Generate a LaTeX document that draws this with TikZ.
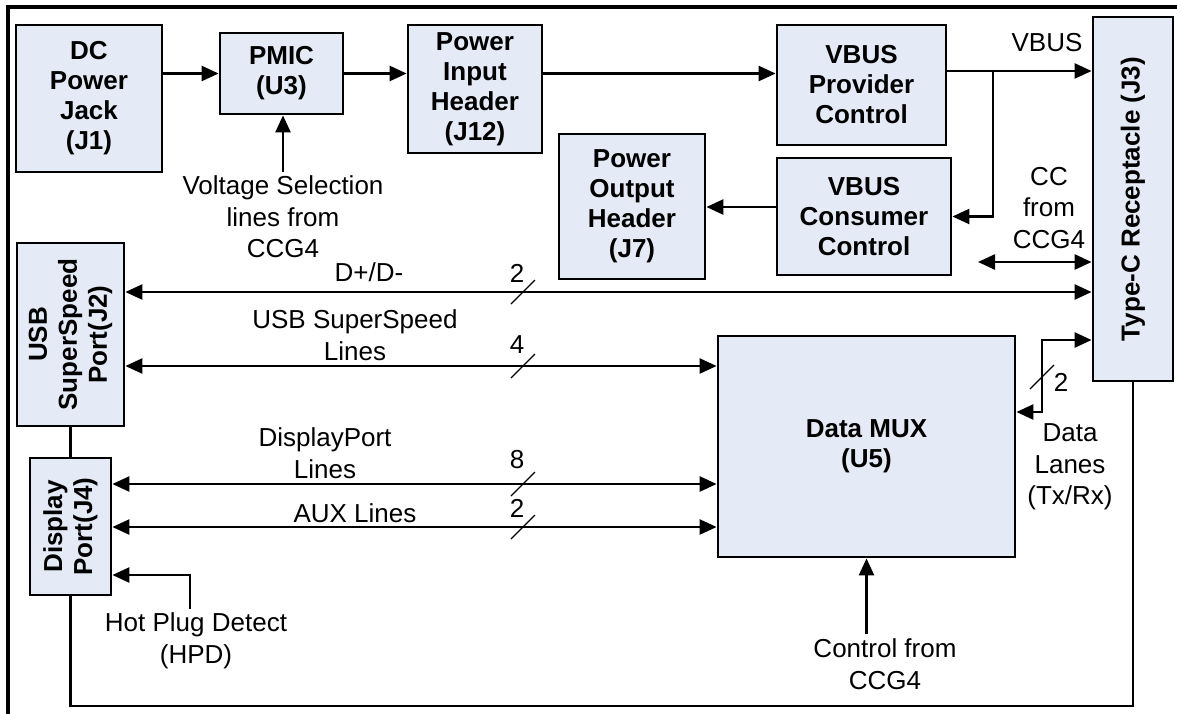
\documentclass[tikz,border=0pt]{standalone}
\usepackage{fontspec}
\setmainfont{Liberation Sans}
\usetikzlibrary{arrows.meta}
\tikzset{>={Triangle[length=8.5pt,width=7.5pt]}}
\definecolor{boxfill}{RGB}{228,234,246}
\tikzstyle{blk}=[draw,line width=1.4pt,fill=boxfill,align=center,inner sep=0pt,font=\fontsize{13}{15}\selectfont\bfseries]
\tikzstyle{lbl}=[align=center,inner sep=2pt,font=\fontsize{13}{15.75}\selectfont]
\tikzstyle{wire}=[line width=1.25pt]
\tikzstyle{busmark}=[line width=0.6pt]
\def\busslash#1{\draw[busmark] (#1) ++(-12,12) -- ++(24,-24);}

\begin{document}
\begin{tikzpicture}[x=0.5pt,y=-0.5pt]
  \useasboundingbox (0,0) rectangle (1177,713);
  \draw[line width=2pt] (7.5,720) -- (7.5,7) -- (1185,7);

  % POWER PATH
  \node[blk,minimum width=73pt,minimum height=73.5pt] (jack) at (89,98.5) {DC\\Power\\Jack\\(J1)};
  \node[blk,minimum width=61.5pt,minimum height=40.5pt] (pmic) at (281.5,73.5) {PMIC\\(U3)};
  \node[blk,minimum width=67pt,minimum height=64pt] (pin) at (475,89) {Power\\Input\\Header\\(J12)};
  \node[blk,minimum width=84.5pt,minimum height=60pt] (prov) at (861.5,85) {VBUS\\Provider\\Control};
  \node[blk,minimum width=87pt,minimum height=58.5pt] (cons) at (864,216.5) {VBUS\\Consumer\\Control};
  \node[blk,minimum width=73pt,minimum height=72.5pt] (pout) at (632,206.5) {Power\\Output\\Header\\(J7)};
  \node[blk,rotate=90,minimum width=182pt,minimum height=40pt] (typec) at (1133,199) {Type-C Receptacle (J3)};

  % PORTS
  \node[blk,rotate=90,minimum width=91.5pt,minimum height=53.5pt] (usb) at (70.5,334.5) {USB\\SuperSpeed\\Port(J2)};
  \node[blk,rotate=90,minimum width=68.5pt,minimum height=40.5pt] (dp) at (70.5,526.5) {Display\\Port(J4)};
  \node[blk,minimum width=148.5pt,minimum height=110.5pt] (mux) at (866.5,446.5) {Data MUX\\(U5)};

  % LABELS
  \node[lbl] (vsel) at (283,217) {Voltage Selection\\lines from\\CCG4};
  \node[lbl] (vbus) at (1047,43) {VBUS};
  \node[lbl] (cc) at (1049,208) {CC\\from\\CCG4};
  \node[lbl] (dd) at (369,272) {D+/D-};
  \node[lbl] (ss) at (355,335) {USB SuperSpeed\\Lines};
  \node[lbl] (dpl) at (325,453) {DisplayPort\\Lines};
  \node[lbl] (aux) at (355,513) {AUX Lines};
  \node[lbl] (hpd) at (196,641) {Hot Plug Detect\\(HPD)};
  \node[lbl] (ctl) at (885,664) {Control from\\CCG4};
  \node[lbl] (lanes) at (1070,467) {Data\\Lanes\\(Tx/Rx)};
  \node[lbl] (nDD) at (517,273) {2};
  \node[lbl] (nSS) at (517,345) {4};
  \node[lbl] (nDP) at (517,460) {8};
  \node[lbl] (nAX) at (517,508) {2};
  \node[lbl] (nDL) at (1061,382) {2};

  \coordinate (vb) at (993,71);
  \coordinate (vout) at (0,207);
  \coordinate (ccend) at (978,262);
  \coordinate (rowdd) at (0,292);
  \coordinate (rowss) at (0,366);
  \coordinate (rowdp) at (0,484);
  \coordinate (rowax) at (0,527);
  \coordinate (hpdk) at (190,575);
  \coordinate (dlo) at (0,412);
  \coordinate (dlk) at (1042,412);
  \coordinate (dhi) at (0,340);
  \coordinate (loopy) at (0,706);

  % CONNECTIONS
  \draw[wire,->] (jack.east |- pmic.west) -- (pmic.west);
  \draw[wire,->] (pmic.east) -- (pmic.east -| pin.west);
  \draw[wire,->] (pin.east |- pmic) -- (prov.west |- pmic);
  \draw[wire,->] (prov.east |- vb) -- (typec.north |- vb);
  \draw[wire,->] (vb) |- (cons.east);
  \draw[wire,->] (cons.west |- vout) -- (pout.east |- vout);
  \draw[wire,->] (vsel.north) -- (vsel.north |- pmic.south);
  \draw[wire,<->] (ccend) -- (typec.north |- ccend);

  \draw[wire,<->] (usb.south |- rowdd) -- (typec.north |- rowdd);
  \draw[wire,<->] (usb.south |- rowss) -- (mux.west |- rowss);
  \draw[wire,<->] (dp.south |- rowdp) -- (mux.west |- rowdp);
  \draw[wire,<->] (dp.south |- rowax) -- (mux.west |- rowax);
  \draw[wire,->] (hpd.north -| hpdk) -- (hpdk) -- (dp.south |- hpdk);
  \draw[wire,->] (ctl.north -| mux.south) -- (mux.south);
  \draw[wire,<->] (mux.east |- dlo) -- (dlk) |- (typec.north |- dhi);
  \draw[wire] (usb.west) -- (dp.east);
  \draw[wire] (dp.west) -- (dp.west |- loopy) -| (typec.west);

  \busslash{523,292}
  \busslash{523,366}
  \busslash{523,484}
  \busslash{523,527}
  \busslash{1042,377}
\end{tikzpicture}
\end{document}
